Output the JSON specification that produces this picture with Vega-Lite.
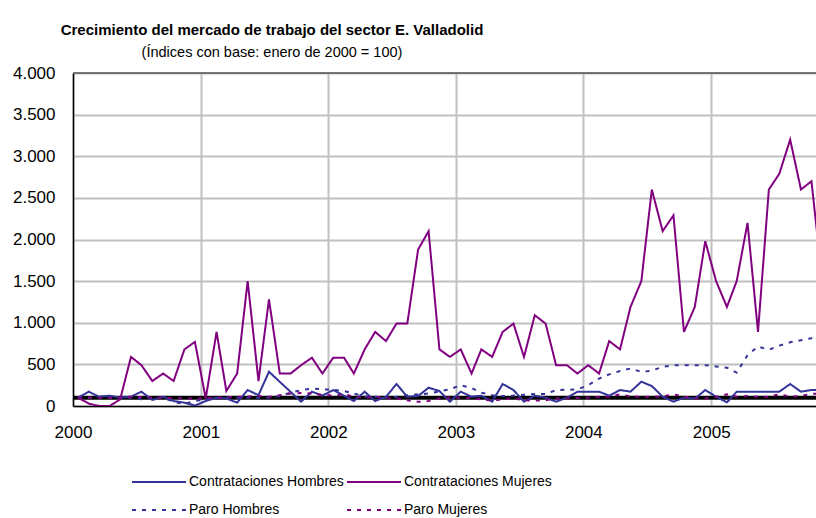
{
  "$schema": "https://vega.github.io/schema/vega-lite/v6.json",
  "width": 743,
  "height": 333,
  "autosize": {"type": "none"},
  "padding": {"left": 73, "top": 73, "right": 0, "bottom": 112},
  "background": "white",
  "config": {
    "locale": {"number": {"decimal": ",", "thousands": ".", "grouping": [3], "currency": ["", " €"]}},
    "view": {"stroke": null},
    "axisY": {
      "title": null,
      "values": [0, 500, 1000, 1500, 2000, 2500, 3000, 3500, 4000],
      "format": ",d",
      "grid": true,
      "gridColor": "#c0c0c0",
      "gridWidth": 2,
      "domainColor": "black",
      "domainWidth": 1.5,
      "ticks": false,
      "labelPadding": 18,
      "labelFont": "Liberation Sans",
      "labelFontSize": 17,
      "labelColor": "black"
    },
    "axisX": {
      "title": null,
      "format": "%Y",
      "grid": true,
      "gridColor": "#c0c0c0",
      "gridWidth": 2,
      "domainColor": "black",
      "domainWidth": 1.5,
      "ticks": false,
      "labelPadding": 18,
      "labelDx": 5,
      "labelFont": "Liberation Sans",
      "labelFontSize": 17,
      "labelColor": "black",
      "labelFlush": false
    }
  },
  "title": {
    "text": "Crecimiento del mercado de trabajo del sector E. Valladolid",
    "subtitle": "(Índices con base: enero de 2000 = 100)",
    "frame": "group",
    "anchor": "start",
    "align": "center",
    "dx": 199,
    "offset": 5,
    "font": "Liberation Sans",
    "fontSize": 15,
    "fontWeight": "bold",
    "color": "black",
    "subtitleFont": "Liberation Sans",
    "subtitleFontSize": 14.5,
    "subtitleColor": "black",
    "subtitlePadding": 8
  },
  "datasets": {
    "series": [
      {"fecha": "2000-01-15", "Contrataciones Hombres": 100, "Contrataciones Mujeres": 100, "Paro Hombres": 100, "Paro Mujeres": 100},
      {"fecha": "2000-02-15", "Contrataciones Hombres": 172, "Contrataciones Mujeres": 30, "Paro Hombres": 100, "Paro Mujeres": 98},
      {"fecha": "2000-03-15", "Contrataciones Hombres": 112, "Contrataciones Mujeres": 0, "Paro Hombres": 100, "Paro Mujeres": 100},
      {"fecha": "2000-04-15", "Contrataciones Hombres": 124, "Contrataciones Mujeres": 0, "Paro Hombres": 100, "Paro Mujeres": 97},
      {"fecha": "2000-05-15", "Contrataciones Hombres": 100, "Contrataciones Mujeres": 80, "Paro Hombres": 95, "Paro Mujeres": 100},
      {"fecha": "2000-06-15", "Contrataciones Hombres": 112, "Contrataciones Mujeres": 590, "Paro Hombres": 100, "Paro Mujeres": 110},
      {"fecha": "2000-07-15", "Contrataciones Hombres": 172, "Contrataciones Mujeres": 490, "Paro Hombres": 80, "Paro Mujeres": 105},
      {"fecha": "2000-08-15", "Contrataciones Hombres": 72, "Contrataciones Mujeres": 300, "Paro Hombres": 95, "Paro Mujeres": 100},
      {"fecha": "2000-09-15", "Contrataciones Hombres": 112, "Contrataciones Mujeres": 390, "Paro Hombres": 100, "Paro Mujeres": 98},
      {"fecha": "2000-10-15", "Contrataciones Hombres": 60, "Contrataciones Mujeres": 300, "Paro Hombres": 50, "Paro Mujeres": 95},
      {"fecha": "2000-11-15", "Contrataciones Hombres": 40, "Contrataciones Mujeres": 680, "Paro Hombres": 25, "Paro Mujeres": 92},
      {"fecha": "2000-12-15", "Contrataciones Hombres": 5, "Contrataciones Mujeres": 770, "Paro Hombres": 60, "Paro Mujeres": 90},
      {"fecha": "2001-01-15", "Contrataciones Hombres": 60, "Contrataciones Mujeres": 90, "Paro Hombres": 80, "Paro Mujeres": 95},
      {"fecha": "2001-02-15", "Contrataciones Hombres": 100, "Contrataciones Mujeres": 890, "Paro Hombres": 90, "Paro Mujeres": 100},
      {"fecha": "2001-03-15", "Contrataciones Hombres": 90, "Contrataciones Mujeres": 180, "Paro Hombres": 100, "Paro Mujeres": 105},
      {"fecha": "2001-04-15", "Contrataciones Hombres": 40, "Contrataciones Mujeres": 390, "Paro Hombres": 100, "Paro Mujeres": 110},
      {"fecha": "2001-05-15", "Contrataciones Hombres": 192, "Contrataciones Mujeres": 1500, "Paro Hombres": 100, "Paro Mujeres": 115},
      {"fecha": "2001-06-15", "Contrataciones Hombres": 130, "Contrataciones Mujeres": 300, "Paro Hombres": 100, "Paro Mujeres": 120},
      {"fecha": "2001-07-15", "Contrataciones Hombres": 412, "Contrataciones Mujeres": 1280, "Paro Hombres": 100, "Paro Mujeres": 110},
      {"fecha": "2001-08-15", "Contrataciones Hombres": 290, "Contrataciones Mujeres": 390, "Paro Hombres": 120, "Paro Mujeres": 130},
      {"fecha": "2001-09-15", "Contrataciones Hombres": 170, "Contrataciones Mujeres": 390, "Paro Hombres": 160, "Paro Mujeres": 150},
      {"fecha": "2001-10-15", "Contrataciones Hombres": 52, "Contrataciones Mujeres": 490, "Paro Hombres": 190, "Paro Mujeres": 155},
      {"fecha": "2001-11-15", "Contrataciones Hombres": 172, "Contrataciones Mujeres": 580, "Paro Hombres": 210, "Paro Mujeres": 150},
      {"fecha": "2001-12-15", "Contrataciones Hombres": 124, "Contrataciones Mujeres": 390, "Paro Hombres": 200, "Paro Mujeres": 135},
      {"fecha": "2002-01-15", "Contrataciones Hombres": 192, "Contrataciones Mujeres": 580, "Paro Hombres": 195, "Paro Mujeres": 125},
      {"fecha": "2002-02-15", "Contrataciones Hombres": 124, "Contrataciones Mujeres": 580, "Paro Hombres": 180, "Paro Mujeres": 140},
      {"fecha": "2002-03-15", "Contrataciones Hombres": 60, "Contrataciones Mujeres": 390, "Paro Hombres": 150, "Paro Mujeres": 112},
      {"fecha": "2002-04-15", "Contrataciones Hombres": 172, "Contrataciones Mujeres": 680, "Paro Hombres": 115, "Paro Mujeres": 100},
      {"fecha": "2002-05-15", "Contrataciones Hombres": 60, "Contrataciones Mujeres": 890, "Paro Hombres": 110, "Paro Mujeres": 110},
      {"fecha": "2002-06-15", "Contrataciones Hombres": 110, "Contrataciones Mujeres": 780, "Paro Hombres": 100, "Paro Mujeres": 95},
      {"fecha": "2002-07-15", "Contrataciones Hombres": 264, "Contrataciones Mujeres": 990, "Paro Hombres": 110, "Paro Mujeres": 90},
      {"fecha": "2002-08-15", "Contrataciones Hombres": 112, "Contrataciones Mujeres": 990, "Paro Hombres": 130, "Paro Mujeres": 70},
      {"fecha": "2002-09-15", "Contrataciones Hombres": 120, "Contrataciones Mujeres": 1880, "Paro Hombres": 140, "Paro Mujeres": 50},
      {"fecha": "2002-10-15", "Contrataciones Hombres": 220, "Contrataciones Mujeres": 2100, "Paro Hombres": 150, "Paro Mujeres": 60},
      {"fecha": "2002-11-15", "Contrataciones Hombres": 180, "Contrataciones Mujeres": 680, "Paro Hombres": 175, "Paro Mujeres": 90},
      {"fecha": "2002-12-15", "Contrataciones Hombres": 52, "Contrataciones Mujeres": 590, "Paro Hombres": 200, "Paro Mujeres": 100},
      {"fecha": "2003-01-15", "Contrataciones Hombres": 172, "Contrataciones Mujeres": 680, "Paro Hombres": 250, "Paro Mujeres": 100},
      {"fecha": "2003-02-15", "Contrataciones Hombres": 112, "Contrataciones Mujeres": 390, "Paro Hombres": 215, "Paro Mujeres": 95},
      {"fecha": "2003-03-15", "Contrataciones Hombres": 124, "Contrataciones Mujeres": 680, "Paro Hombres": 160, "Paro Mujeres": 80},
      {"fecha": "2003-04-15", "Contrataciones Hombres": 52, "Contrataciones Mujeres": 590, "Paro Hombres": 130, "Paro Mujeres": 65},
      {"fecha": "2003-05-15", "Contrataciones Hombres": 264, "Contrataciones Mujeres": 890, "Paro Hombres": 120, "Paro Mujeres": 80},
      {"fecha": "2003-06-15", "Contrataciones Hombres": 192, "Contrataciones Mujeres": 990, "Paro Hombres": 125, "Paro Mujeres": 92},
      {"fecha": "2003-07-15", "Contrataciones Hombres": 52, "Contrataciones Mujeres": 590, "Paro Hombres": 135, "Paro Mujeres": 70},
      {"fecha": "2003-08-15", "Contrataciones Hombres": 124, "Contrataciones Mujeres": 1090, "Paro Hombres": 145, "Paro Mujeres": 65},
      {"fecha": "2003-09-15", "Contrataciones Hombres": 100, "Contrataciones Mujeres": 990, "Paro Hombres": 145, "Paro Mujeres": 70},
      {"fecha": "2003-10-15", "Contrataciones Hombres": 52, "Contrataciones Mujeres": 490, "Paro Hombres": 190, "Paro Mujeres": 90},
      {"fecha": "2003-11-15", "Contrataciones Hombres": 100, "Contrataciones Mujeres": 490, "Paro Hombres": 195, "Paro Mujeres": 92},
      {"fecha": "2003-12-15", "Contrataciones Hombres": 172, "Contrataciones Mujeres": 390, "Paro Hombres": 200, "Paro Mujeres": 95},
      {"fecha": "2004-01-15", "Contrataciones Hombres": 172, "Contrataciones Mujeres": 490, "Paro Hombres": 250, "Paro Mujeres": 100},
      {"fecha": "2004-02-15", "Contrataciones Hombres": 172, "Contrataciones Mujeres": 390, "Paro Hombres": 330, "Paro Mujeres": 110},
      {"fecha": "2004-03-15", "Contrataciones Hombres": 124, "Contrataciones Mujeres": 780, "Paro Hombres": 380, "Paro Mujeres": 112},
      {"fecha": "2004-04-15", "Contrataciones Hombres": 192, "Contrataciones Mujeres": 680, "Paro Hombres": 420, "Paro Mujeres": 140},
      {"fecha": "2004-05-15", "Contrataciones Hombres": 172, "Contrataciones Mujeres": 1190, "Paro Hombres": 450, "Paro Mujeres": 115},
      {"fecha": "2004-06-15", "Contrataciones Hombres": 292, "Contrataciones Mujeres": 1500, "Paro Hombres": 410, "Paro Mujeres": 112},
      {"fecha": "2004-07-15", "Contrataciones Hombres": 240, "Contrataciones Mujeres": 2600, "Paro Hombres": 425, "Paro Mujeres": 112},
      {"fecha": "2004-08-15", "Contrataciones Hombres": 112, "Contrataciones Mujeres": 2100, "Paro Hombres": 470, "Paro Mujeres": 115},
      {"fecha": "2004-09-15", "Contrataciones Hombres": 52, "Contrataciones Mujeres": 2290, "Paro Hombres": 490, "Paro Mujeres": 140},
      {"fecha": "2004-10-15", "Contrataciones Hombres": 100, "Contrataciones Mujeres": 890, "Paro Hombres": 490, "Paro Mujeres": 112},
      {"fecha": "2004-11-15", "Contrataciones Hombres": 88, "Contrataciones Mujeres": 1190, "Paro Hombres": 490, "Paro Mujeres": 95},
      {"fecha": "2004-12-15", "Contrataciones Hombres": 192, "Contrataciones Mujeres": 1980, "Paro Hombres": 490, "Paro Mujeres": 90},
      {"fecha": "2005-01-15", "Contrataciones Hombres": 112, "Contrataciones Mujeres": 1500, "Paro Hombres": 475, "Paro Mujeres": 110},
      {"fecha": "2005-02-15", "Contrataciones Hombres": 44, "Contrataciones Mujeres": 1190, "Paro Hombres": 460, "Paro Mujeres": 140},
      {"fecha": "2005-03-15", "Contrataciones Hombres": 172, "Contrataciones Mujeres": 1500, "Paro Hombres": 400, "Paro Mujeres": 112},
      {"fecha": "2005-04-15", "Contrataciones Hombres": 172, "Contrataciones Mujeres": 2200, "Paro Hombres": 610, "Paro Mujeres": 120},
      {"fecha": "2005-05-15", "Contrataciones Hombres": 172, "Contrataciones Mujeres": 890, "Paro Hombres": 715, "Paro Mujeres": 110},
      {"fecha": "2005-06-15", "Contrataciones Hombres": 172, "Contrataciones Mujeres": 2600, "Paro Hombres": 675, "Paro Mujeres": 112},
      {"fecha": "2005-07-15", "Contrataciones Hombres": 172, "Contrataciones Mujeres": 2790, "Paro Hombres": 725, "Paro Mujeres": 140},
      {"fecha": "2005-08-15", "Contrataciones Hombres": 264, "Contrataciones Mujeres": 3200, "Paro Hombres": 765, "Paro Mujeres": 112},
      {"fecha": "2005-09-15", "Contrataciones Hombres": 172, "Contrataciones Mujeres": 2600, "Paro Hombres": 790, "Paro Mujeres": 120},
      {"fecha": "2005-10-15", "Contrataciones Hombres": 192, "Contrataciones Mujeres": 2700, "Paro Hombres": 815, "Paro Mujeres": 145},
      {"fecha": "2005-11-15", "Contrataciones Hombres": 190, "Contrataciones Mujeres": 1500, "Paro Hombres": 850, "Paro Mujeres": 150}
    ],
    "one": [{"k": 1}]
  },
  "layer": [
    {
      "data": {"name": "one"},
      "mark": {"type": "rule", "color": "black", "strokeWidth": 4},
      "encoding": {"y": {"datum": 100, "type": "quantitative"}}
    },
    {
      "data": {"name": "one"},
      "mark": {"type": "rule", "color": "#555555", "strokeWidth": 1.5},
      "encoding": {"y": {"datum": 4000, "type": "quantitative"}}
    },
    {
      "data": {"name": "series"},
      "transform": [
        {"fold": ["Contrataciones Hombres", "Contrataciones Mujeres", "Paro Hombres", "Paro Mujeres"], "as": ["serie", "valor"]}
      ],
      "mark": {"type": "line", "clip": true},
      "encoding": {
        "x": {
          "field": "fecha",
          "type": "temporal",
          "scale": {"domain": [{"year": 2000, "month": 1, "date": 1}, {"year": 2005, "month": 10, "date": 28}]},
          "axis": {"tickCount": {"interval": "year", "step": 1}}
        },
        "y": {
          "field": "valor",
          "type": "quantitative",
          "scale": {"domain": [0, 4000], "nice": false}
        },
        "color": {
          "field": "serie",
          "type": "nominal",
          "scale": {
            "domain": ["Contrataciones Hombres", "Contrataciones Mujeres", "Paro Hombres", "Paro Mujeres"],
            "range": ["#333399", "#800080", "#333399", "#800080"]
          },
          "legend": {
            "title": null,
            "orient": "none",
            "direction": "horizontal",
            "legendX": 79,
            "legendY": 402,
            "columns": 2,
            "columnPadding": -1,
            "rowPadding": 14,
            "symbolType": "M-5.4,0H5.4",
            "symbolSize": 100,
            "symbolStrokeWidth": 2.5,
            "labelFont": "Liberation Sans",
            "labelFontSize": 14,
            "labelColor": "black",
            "labelOffset": 23,
            "labelLimit": 400
          }
        },
        "strokeDash": {
          "field": "serie",
          "type": "nominal",
          "scale": {
            "domain": ["Contrataciones Hombres", "Contrataciones Mujeres", "Paro Hombres", "Paro Mujeres"],
            "range": [[1, 0], [1, 0], [4, 6], [4, 6]]
          },
          "legend": null
        },
        "strokeWidth": {
          "field": "serie",
          "type": "nominal",
          "scale": {
            "domain": ["Contrataciones Hombres", "Contrataciones Mujeres", "Paro Hombres", "Paro Mujeres"],
            "range": [2, 2, 3, 3]
          },
          "legend": null
        }
      }
    }
  ]
}
